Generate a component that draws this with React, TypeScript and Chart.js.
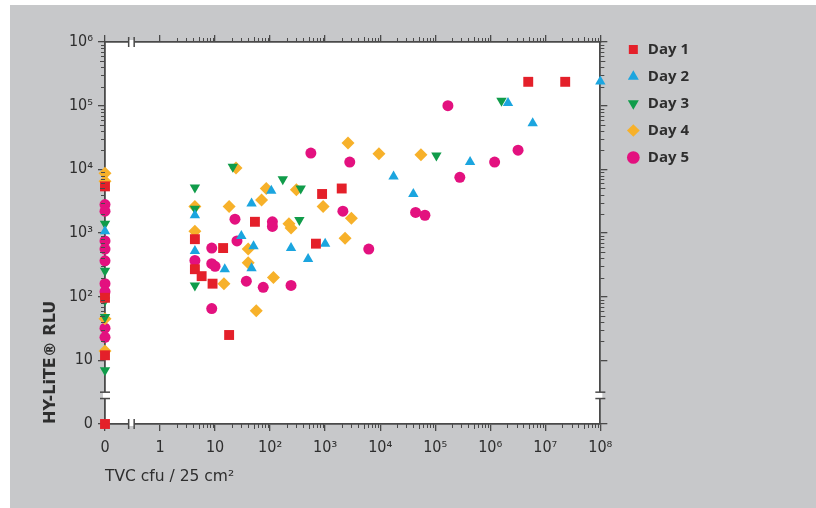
import React, { useEffect, useRef } from "react";
import { Chart, registerables } from "chart.js";

Chart.register(...registerables);

// ---- tick labels & series names ----
const xTickLabels = ["0", "1", "10", "10²", "10³", "10⁴", "10⁵", "10⁶", "10⁷", "10⁸"];
const yTickLabels = ["0", "10", "10²", "10³", "10⁴", "10⁵", "10⁶"];
const seriesNames = ["Day 1", "Day 2", "Day 3", "Day 4", "Day 5"];
const seriesColors = ["#e4202a", "#1ba5df", "#109c4a", "#f7b12a", "#e3117f"];

// ---- data: TVC (cfu / 25 cm²) and RLU ----
const day1Tvc = [0, 0, 0, 0, 4.3, 4.3, 5.7, 9, 14, 18, 53, 680, 880, 2000, 4.9e6, 2.3e7];
const day1Rlu = [0, 5400, 96, 12, 800, 270, 210, 160, 580, 25, 1500, 680, 4100, 5000, 2.37e5, 2.37e5];

const day2Tvc = [0, 4.3, 4.3, 15, 30, 46, 46, 50, 105, 240, 490, 1000, 1.75e4, 4e4, 4.3e5, 2.1e6, 5.9e6, 1e8];
const day2Rlu = [1070, 1900, 520, 270, 900, 280, 2900, 620, 4600, 580, 390, 680, 7700, 4100, 1.3e4, 1.1e5, 5.3e4, 2.4e5];

const day3Tvc = [0, 0, 0, 0, 0, 4.3, 4.3, 4.3, 21, 170, 340, 360, 1.05e5, 1.6e6];
const day3Rlu = [1400, 255, 87, 48, 7, 5200, 2400, 150, 1.1e4, 7000, 1600, 5000, 1.65e4, 1.2e5];

const day4Tvc = [0, 0, 0, 0, 4.3, 4.3, 14.5, 18, 24, 40, 40, 56, 70, 85, 115, 220, 240, 300, 920, 2300, 2600, 3000, 9500, 5.5e4];
const day4Rlu = [8700, 6500, 45, 14, 2600, 1070, 160, 2600, 1.05e4, 560, 340, 60, 3300, 5000, 200, 1400, 1200, 4800, 2600, 830, 2.6e4, 1700, 1.75e4, 1.7e4];

const day5Tvc = [0, 0, 0, 0, 0, 0, 0, 0, 0, 4.3, 8.7, 8.7, 10, 8.7, 23, 25, 37, 75, 110, 110, 240, 550, 2100, 2800, 6200, 4.4e4, 6.5e4, 1.7e5, 2.8e5, 1.2e6, 3.2e6];
const day5Rlu = [2800, 2200, 750, 560, 365, 160, 120, 32, 23, 370, 580, 330, 300, 65, 1650, 750, 175, 140, 1500, 1270, 150, 1.8e4, 2200, 1.3e4, 560, 2100, 1900, 1.0e5, 7500, 1.3e4, 2.0e4];

// broken log axes: 0 sits one decade below the first decade
const toX = (v: number) => (v === 0 ? -1 : Math.log10(v));
const toY = (v: number) => (v === 0 ? 0 : Math.log10(v));

const pairs = (xs: number[], ys: number[]) => xs.map((x, i) => ({ x: toX(x), y: toY(ys[i]) }));

const AXIS = "#4a4a4a";
const TEXT = "#2e2e2e";

const decor = {
  id: "decor",
  beforeDraw(chart: any) {
    const { ctx, chartArea: a } = chart;
    ctx.save();
    ctx.fillStyle = "#ffffff";
    ctx.fillRect(a.left, a.top, a.right - a.left, a.bottom - a.top);
    ctx.restore();
  },
  afterDraw(chart: any) {
    const { ctx, chartArea: a, scales } = chart;
    const xs = scales.x;
    const ys = scales.y;
    ctx.save();
    ctx.strokeStyle = AXIS;
    ctx.lineWidth = 1;
    const line = (x1: number, y1: number, x2: number, y2: number) => {
      ctx.beginPath();
      ctx.moveTo(x1, y1);
      ctx.lineTo(x2, y2);
      ctx.stroke();
    };
    // minor log ticks
    for (let d = 0; d < 8; d++) {
      for (let k = 2; k <= 9; k++) {
        const px = Math.round(xs.getPixelForValue(d + Math.log10(k))) + 0.5;
        const len = k === 5 ? 5 : 4;
        line(px, a.bottom, px, a.bottom + len);
        line(px, a.top, px, a.top - len);
      }
    }
    for (let d = 1; d < 6; d++) {
      for (let k = 2; k <= 9; k++) {
        const py = Math.round(ys.getPixelForValue(d + Math.log10(k))) + 0.5;
        const len = k === 5 ? 5 : 4;
        line(a.left, py, a.left - len, py);
        line(a.right, py, a.right + len, py);
      }
    }
    // axis breaks
    const bx1 = xs.getPixelForValue(-0.57);
    const bx2 = xs.getPixelForValue(-0.47);
    ctx.lineWidth = 1.5;
    for (const yy of [a.top, a.bottom]) {
      ctx.fillStyle = "#ffffff";
      ctx.fillRect(bx1, yy - 2, bx2 - bx1, 4);
      line(bx1, yy - 5, bx1, yy + 5);
      line(bx2, yy - 5, bx2, yy + 5);
    }
    const by1 = ys.getPixelForValue(0.5);
    const by2 = ys.getPixelForValue(0.4);
    for (const xx of [a.left, a.right]) {
      ctx.fillStyle = "#ffffff";
      ctx.fillRect(xx - 2, by1, 4, by2 - by1);
      line(xx - 5, by1, xx + 5, by1);
      line(xx - 5, by2, xx + 5, by2);
    }
    ctx.restore();
  },
};

const tickFont = { family: "'Liberation Sans Narrow', 'DejaVu Sans Condensed', sans-serif", size: 16 };

export default function App() {
  const ref = useRef<HTMLCanvasElement | null>(null);

  useEffect(() => {
    if (!ref.current) return;
    const shapes = [
      { pointStyle: "rect", radius: 7, rotation: 0 },
      { pointStyle: "triangle", radius: 6, rotation: 0 },
      { pointStyle: "triangle", radius: 6, rotation: 180 },
      { pointStyle: "rectRot", radius: 6.5, rotation: 0 },
      { pointStyle: "circle", radius: 5.5, rotation: 0 },
    ];
    const raw = [
      [day1Tvc, day1Rlu],
      [day2Tvc, day2Rlu],
      [day3Tvc, day3Rlu],
      [day4Tvc, day4Rlu],
      [day5Tvc, day5Rlu],
    ];
    const datasets = raw.map(([xs, ys], i) => ({
      label: seriesNames[i],
      data: pairs(xs, ys),
      backgroundColor: seriesColors[i],
      borderColor: seriesColors[i],
      borderWidth: 0,
      clip: false,
      pointStyle: shapes[i].pointStyle,
      pointRadius: shapes[i].radius,
      pointRotation: shapes[i].rotation,
      pointBorderWidth: 0,
      pointHoverRadius: shapes[i].radius,
    }));

    const gridOpts = {
      drawOnChartArea: false,
      drawTicks: true,
      tickLength: 7,
      color: AXIS,
      lineWidth: 1.3,
    };
    const borderOpts = { display: true, color: AXIS, width: 1.8 };

    const chart = new Chart(ref.current, {
      type: "scatter",
      data: { datasets: datasets as any },
      plugins: [decor],
      options: {
        responsive: false,
        animation: false,
        layout: { padding: { top: 25, right: 117, bottom: 0, left: 0 } },
        plugins: {
          tooltip: { enabled: false },
          legend: {
            position: "right",
            align: "start",
            labels: {
              usePointStyle: true,
              boxWidth: 14,
              boxHeight: 9,
              padding: 12,
              color: TEXT,
              font: { family: "'Open Sans', sans-serif", size: 15, weight: "bold" },
            },
          },
        },
        scales: {
          x: {
            type: "linear",
            position: "bottom",
            min: -1,
            max: 8,
            afterBuildTicks: (s: any) => {
              s.ticks = xTickLabels.map((_, i) => ({ value: i - 1 }));
            },
            afterFit: (s: any) => {
              s.height = 84;
            },
            ticks: {
              autoSkip: false,
              maxRotation: 0,
              padding: 7,
              color: TEXT,
              font: tickFont,
              callback: (_v: any, i: number) => xTickLabels[i],
            },
            grid: gridOpts,
            border: borderOpts,
            title: {
              display: true,
              text: "TVC cfu / 25 cm²",
              align: "start",
              color: TEXT,
              font: { family: "'DejaVu Sans', sans-serif", size: 15.5 },
              padding: { top: 0, bottom: 22 },
            },
          },
          x2: {
            type: "linear",
            axis: "x",
            position: "top",
            min: -1,
            max: 8,
            afterBuildTicks: (s: any) => {
              s.ticks = xTickLabels.map((_, i) => ({ value: i - 1 }));
            },
            afterFit: (s: any) => {
              s.height = 12;
            },
            ticks: { display: false },
            grid: gridOpts,
            border: borderOpts,
          },
          y: {
            type: "linear",
            position: "left",
            min: 0,
            max: 6,
            afterBuildTicks: (s: any) => {
              s.ticks = yTickLabels.map((_, i) => ({ value: i }));
            },
            afterFit: (s: any) => {
              s.width = 95;
            },
            ticks: {
              autoSkip: false,
              padding: 5,
              color: TEXT,
              font: tickFont,
              callback: (_v: any, i: number) => yTickLabels[i],
            },
            grid: gridOpts,
            border: borderOpts,
            title: {
              display: true,
              text: "HY-LiTE® RLU",
              align: "start",
              color: TEXT,
              font: { family: "'DejaVu Sans', sans-serif", size: 16, weight: "bold" },
              padding: { top: 31, bottom: 0 },
            },
          },
          y2: {
            type: "linear",
            axis: "y",
            position: "right",
            min: 0,
            max: 6,
            afterBuildTicks: (s: any) => {
              s.ticks = yTickLabels.map((_, i) => ({ value: i }));
            },
            afterFit: (s: any) => {
              s.width = 14;
            },
            ticks: { display: false },
            grid: gridOpts,
            border: borderOpts,
          },
        },
      } as any,
    });
    return () => chart.destroy();
  }, []);

  return (
    <div style={{ position: "fixed", left: 0, top: 0, width: 816, height: 508, background: "#ffffff", overflow: "hidden" }}>
      <div style={{ position: "absolute", left: 10, top: 5, width: 806, height: 503, background: "#c7c8ca" }}>
        <canvas ref={ref} width={806} height={503} style={{ width: 806, height: 503, display: "block" }} />
      </div>
    </div>
  );
}
